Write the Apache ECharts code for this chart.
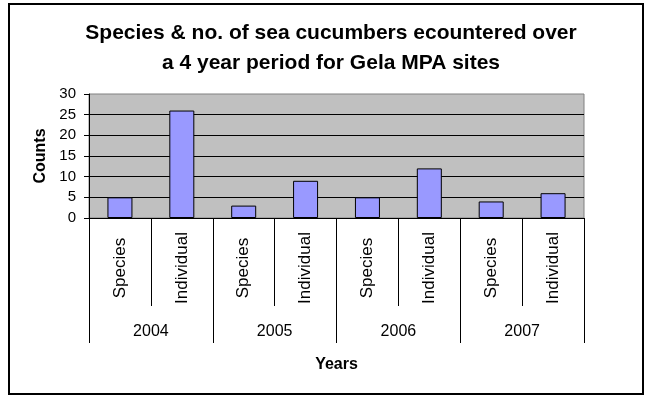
<!DOCTYPE html>
<html>
<head>
<meta charset="utf-8">
<script src="https://cdn.jsdelivr.net/npm/echarts@6/dist/echarts.min.js"></script>
<style>
  html, body { margin: 0; padding: 0; background: #ffffff; }
  #chart { width: 649px; height: 396px; }
</style>
</head>
<body>
<div id="chart"></div>
<script>
// Survey years and the two measures recorded in each year
var years = ['2004', '2005', '2006', '2007'];
var measures = ['Species', 'Individual'];

// Counts per year
var speciesCounts = [5, 3, 5, 4];
var individualCounts = [26, 9, 12, 6];

// Value axis ticks
var countTicks = [0, 5, 10, 15, 20, 25, 30];

// Flatten into one category per (year, measure) pair
var categories = [];
var values = [];
years.forEach(function (y, i) {
  categories.push(measures[0]);
  values.push(speciesCounts[i]);
  categories.push(measures[1]);
  values.push(individualCounts[i]);
});

var FONT = 'Liberation Sans, Arial, sans-serif';
var chart = echarts.init(document.getElementById('chart'), null, { renderer: 'canvas' });

chart.setOption({
  backgroundColor: '#ffffff',
  animation: false,
  title: {
    text: 'Species & no. of sea cucumbers ecountered over\na 4 year period for Gela MPA sites',
    left: 326,
    textAlign: 'center',
    top: 13,
    textStyle: {
      fontFamily: FONT,
      fontSize: 21,
      fontWeight: 'bold',
      color: '#000000',
      lineHeight: 30
    }
  },
  graphic: [{
    type: 'rect',
    shape: { x: 9, y: 4, width: 634, height: 390 },
    style: { fill: 'none', stroke: '#000000', lineWidth: 2 },
    silent: true
  }],
  grid: {
    left: 89,
    right: 65,
    top: 94,
    bottom: 178,
    show: true,
    backgroundColor: '#c0c0c0',
    borderColor: '#808080',
    borderWidth: 1
  },
  xAxis: [{
    type: 'category',
    position: 'bottom',
    data: categories,
    axisLine: { show: true, lineStyle: { color: '#000000', width: 1 } },
    axisTick: { show: true, length: 88, lineStyle: { color: '#000000', width: 1 } },
    axisLabel: {
      rotate: 90,
      align: 'center',
      margin: 50,
      interval: 0,
      fontFamily: FONT,
      fontSize: 17,
      color: '#000000'
    }
  }, {
    type: 'category',
    position: 'bottom',
    offset: 0,
    data: years,
    name: 'Years',
    nameLocation: 'middle',
    nameGap: 139,
    nameTextStyle: {
      fontFamily: FONT,
      fontSize: 16,
      fontWeight: 'bold',
      color: '#000000'
    },
    axisLine: { show: true, lineStyle: { color: '#000000', width: 1 } },
    axisTick: { show: true, length: 125, lineStyle: { color: '#000000', width: 1 } },
    axisLabel: {
      margin: 106,
      interval: 0,
      fontFamily: FONT,
      fontSize: 16,
      color: '#000000'
    }
  }],
  yAxis: {
    type: 'value',
    min: countTicks[0],
    max: countTicks[countTicks.length - 1],
    interval: countTicks[1] - countTicks[0],
    name: 'Counts',
    nameLocation: 'middle',
    nameGap: 40,
    nameRotate: 90,
    nameTextStyle: {
      fontFamily: FONT,
      fontSize: 16,
      fontWeight: 'bold',
      color: '#000000'
    },
    axisLine: { show: true, lineStyle: { color: '#000000', width: 1 } },
    axisTick: { show: true, length: 5, lineStyle: { color: '#000000', width: 1 } },
    axisLabel: {
      margin: 13,
      fontFamily: FONT,
      fontSize: 15,
      color: '#000000'
    },
    splitLine: {
      show: true,
      showMaxLine: false,
      lineStyle: { color: '#000000', width: 1 }
    }
  },
  series: [{
    type: 'bar',
    xAxisIndex: 0,
    data: values,
    barWidth: 25,
    itemStyle: {
      color: '#9999ff',
      borderColor: '#000000',
      borderWidth: 1
    }
  }]
});
</script>
</body>
</html>
